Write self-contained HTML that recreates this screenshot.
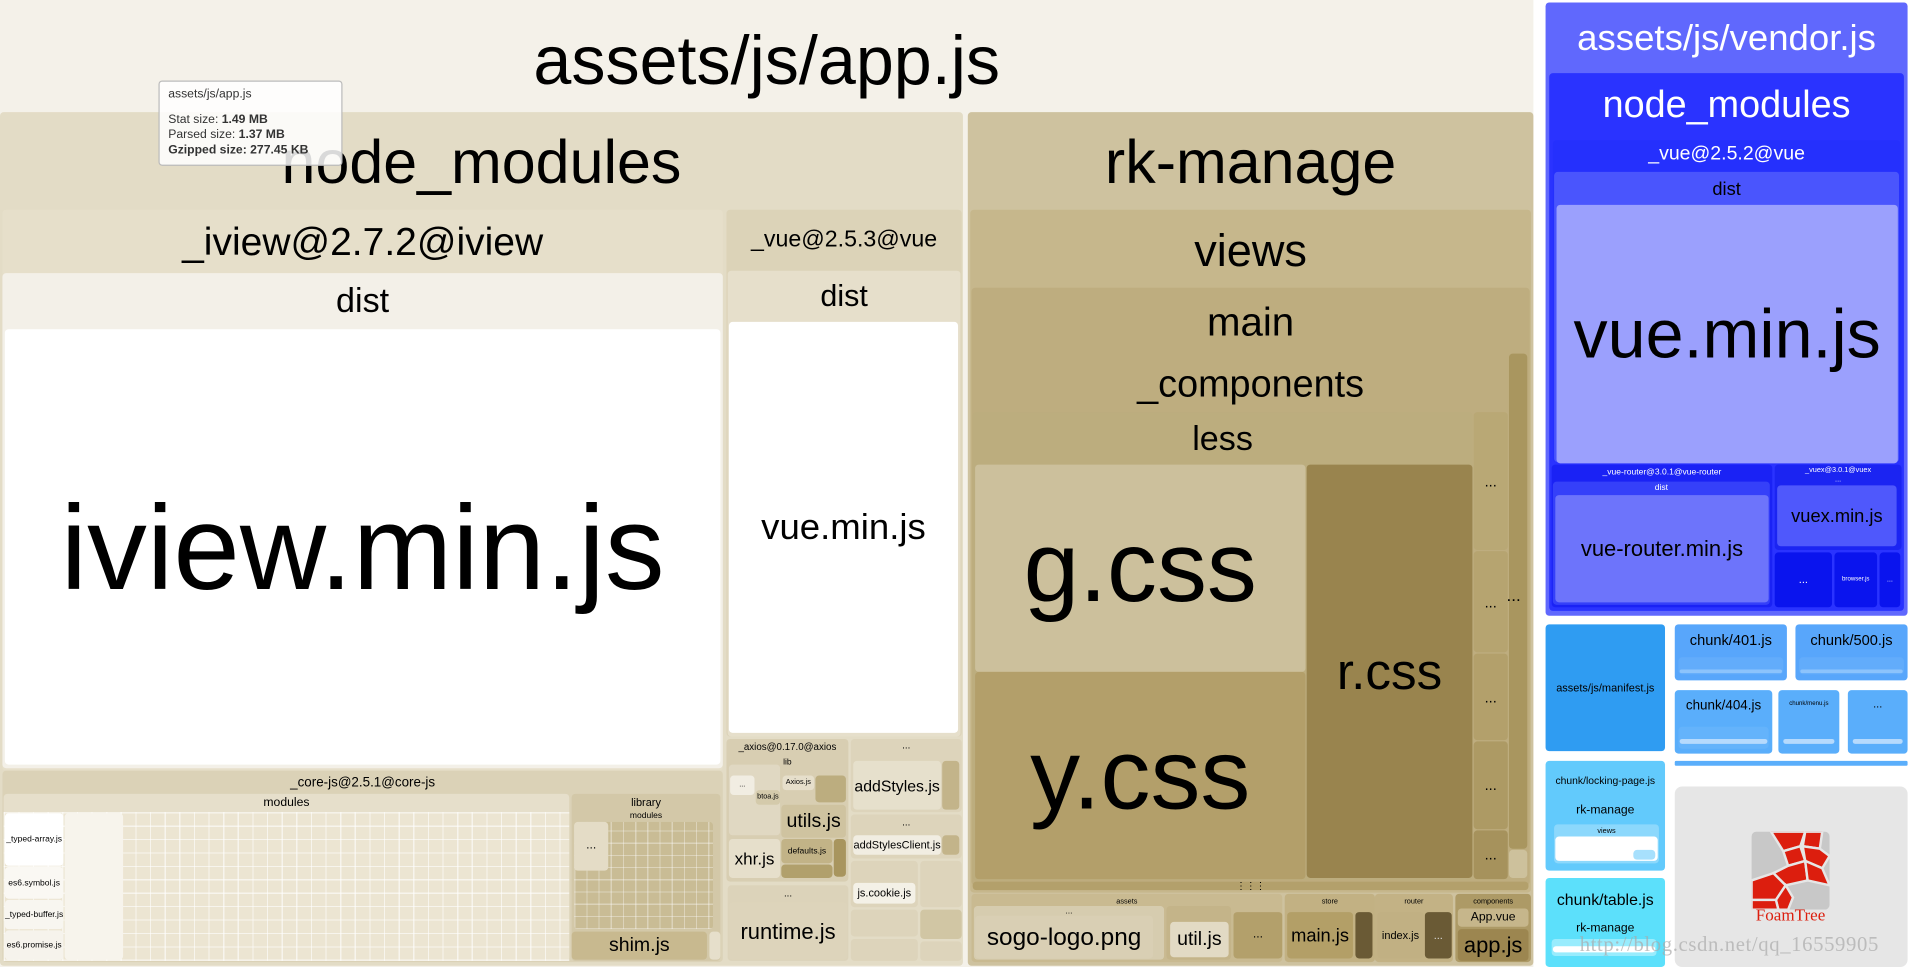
<!DOCTYPE html>
<html><head><meta charset="utf-8"><style>
html,body{margin:0;padding:0;width:1910px;height:967px;overflow:hidden;background:#fff}
#s{position:absolute;left:0;top:0;width:1567px;height:793px;transform:scale(1.2189,1.2194);transform-origin:0 0;font-family:"Liberation Sans",sans-serif;color:#000}
.b{position:absolute;box-sizing:border-box;border-radius:3px;overflow:hidden}
.t{position:absolute;left:0;right:0;text-align:center;white-space:nowrap;line-height:1}
.c{display:flex;align-items:center;justify-content:center;white-space:nowrap;line-height:1}
.grid{background-color:#ece5d2;background-image:repeating-linear-gradient(90deg,rgba(255,255,255,.6) 0 1px,transparent 1px 12px),repeating-linear-gradient(0deg,rgba(255,255,255,.6) 0 1px,transparent 1px 11px)}
</style></head><body><div id="s">
<!-- app.js -->
<div class="b" style="left:0;top:0;width:1258px;height:793px;background:#f4f1e9;border-radius:0"></div>
<div class="t" style="left:0;width:1258px;top:22px;font-size:56px">assets/js/app.js</div>
<div class="b" style="left:0;top:92px;width:790px;height:700px;background:#e3dcc6"><div class="t" style="top:16px;font-size:50px">node_modules</div></div>
<div class="b" style="left:2px;top:172px;width:591px;height:460px;background:#e6dfca"><div class="t" style="top:10px;font-size:32px">_iview@2.7.2@iview</div></div>
<div class="b" style="left:2px;top:224px;width:591px;height:406px;background:#f3f0e8"><div class="t" style="top:9px;font-size:28px">dist</div></div>
<div class="b c" style="left:4px;top:270px;width:587px;height:357px;background:#fff;font-size:98px">iview.min.js</div>
<div class="b" style="left:596px;top:172px;width:193px;height:432px;background:#dcd3b8"><div class="t" style="top:15px;font-size:19px">_vue@2.5.3@vue</div></div>
<div class="b" style="left:597px;top:222px;width:191px;height:382px;background:#e6dfcb"><div class="t" style="top:9px;font-size:25px">dist</div></div>
<div class="b c" style="left:598px;top:264px;width:188px;height:337px;background:#fff;font-size:30px">vue.min.js</div>
<!-- core-js -->
<div class="b" style="left:2px;top:632px;width:591px;height:157px;background:#dbd2b7"><div class="t" style="top:5px;font-size:11px">_core-js@2.5.1@core-js</div></div>
<div class="b" style="left:3px;top:651px;width:464px;height:137px;background:#e6dfcb"><div class="t" style="top:3px;font-size:10px">modules</div></div>
<div class="b grid" style="left:3px;top:666px;width:464px;height:122px;border-radius:0"></div>
<div class="b c" style="left:4px;top:667px;width:48px;height:43px;background:#fff;font-size:7px">_typed-array.js</div>
<div class="b c" style="left:4px;top:711px;width:48px;height:26px;background:#faf8f3;font-size:7px">es6.symbol.js</div>
<div class="b c" style="left:4px;top:738px;width:48px;height:24px;background:#f8f6f0;font-size:7px">_typed-buffer.js</div>
<div class="b c" style="left:4px;top:763px;width:48px;height:24px;background:#f6f3ec;font-size:7px">es6.promise.js</div>
<div class="b" style="left:53px;top:667px;width:48px;height:120px;background:#f7f4ec"></div>
<div class="b" style="left:469px;top:651px;width:122px;height:137px;background:#d3c8a8"><div class="t" style="top:3px;font-size:9px">library</div><div class="t" style="top:15px;font-size:7px">modules</div></div>
<div class="b" style="left:471px;top:674px;width:114px;height:88px;background-color:#c9bc95;background-image:repeating-linear-gradient(90deg,rgba(255,255,255,.35) 0 1px,transparent 1px 10px),repeating-linear-gradient(0deg,rgba(255,255,255,.35) 0 1px,transparent 1px 10px)"></div>
<div class="b c" style="left:471px;top:674px;width:28px;height:40px;background:#e4dcc6;font-size:10px">...</div>
<div class="b c" style="left:469px;top:764px;width:111px;height:23px;background:#c8b98f;font-size:16px">shim.js</div>
<div class="b" style="left:582px;top:764px;width:9px;height:23px;background:#e6dfcb"></div>
<!-- axios -->
<div class="b" style="left:596px;top:606px;width:100px;height:117px;background:#d8ceb2"><div class="t" style="top:3px;font-size:8px">_axios@0.17.0@axios</div><div class="t" style="top:16px;font-size:7px">lib</div></div>
<div class="b" style="left:598px;top:627px;width:42px;height:58px;background:#e0d8c2"></div>
<div class="b c" style="left:599px;top:636px;width:20px;height:16px;background:#f1ede2;font-size:6px">...</div>
<div class="b c" style="left:620px;top:648px;width:20px;height:12px;background:#d4caab;font-size:6px">btoa.js</div>
<div class="b c" style="left:642px;top:636px;width:26px;height:12px;background:#e6dfcb;font-size:6px">Axios.js</div>
<div class="b" style="left:669px;top:636px;width:25px;height:22px;background:#bcad7f"></div>
<div class="b c" style="left:641px;top:660px;width:53px;height:27px;background:#cfc3a0;font-size:16px">utils.js</div>
<div class="b c" style="left:641px;top:688px;width:42px;height:20px;background:#c2b387;font-size:7px">defaults.js</div>
<div class="b" style="left:684px;top:688px;width:10px;height:31px;background:#a8955e"></div>
<div class="b" style="left:641px;top:709px;width:42px;height:11px;background:#b1a06c"></div>
<div class="b c" style="left:598px;top:688px;width:42px;height:32px;background:#e6dfcb;font-size:14px">xhr.js</div>
<div class="b" style="left:597px;top:726px;width:99px;height:62px;background:#dcd3ba"><div class="t" style="top:3px;font-size:8px">...</div></div>
<div class="b c" style="left:598px;top:740px;width:97px;height:47px;background:#ddd4bb;font-size:18px">runtime.js</div>
<div class="b" style="left:698px;top:606px;width:91px;height:60px;background:#ddd4bb"><div class="t" style="top:2px;font-size:8px">...</div></div>
<div class="b c" style="left:700px;top:624px;width:72px;height:40px;background:#e6e0cc;font-size:13px">addStyles.js</div>
<div class="b" style="left:773px;top:624px;width:14px;height:40px;background:#c3b48a"></div>
<div class="b" style="left:698px;top:668px;width:91px;height:36px;background:#ddd4bb"><div class="t" style="top:3px;font-size:8px">...</div></div>
<div class="b c" style="left:700px;top:685px;width:72px;height:16px;background:#f1ede2;font-size:9px">addStylesClient.js</div>
<div class="b" style="left:773px;top:685px;width:14px;height:16px;background:#c3b48a"></div>
<div class="b" style="left:698px;top:706px;width:55px;height:38px;background:#ddd4bb"></div>
<div class="b c" style="left:700px;top:724px;width:51px;height:17px;background:#f4f1e7;font-size:9px">js.cookie.js</div>
<div class="b" style="left:755px;top:706px;width:34px;height:38px;background:#ddd4bb"></div>
<div class="b" style="left:698px;top:746px;width:55px;height:22px;background:#ddd4bb"></div>
<div class="b" style="left:698px;top:770px;width:55px;height:18px;background:#ddd4bb"></div>
<div class="b" style="left:755px;top:746px;width:34px;height:24px;background:#d1c6a4"></div>
<div class="b" style="left:755px;top:772px;width:34px;height:16px;background:#ddd4bb"></div>
<!-- tooltip -->
<div class="b" style="left:130px;top:66px;width:151px;height:70px;background:rgba(255,255,255,.85);border:1px solid #bbb;font-size:10px;color:#333;padding:5px 7px;line-height:12.5px;white-space:nowrap">
<div>assets/js/app.js</div><div style="height:8px"></div>
<div>Stat size: <b>1.49 MB</b></div><div>Parsed size: <b>1.37 MB</b></div><div><b>Gzipped size: 277.45 KB</b></div></div>
<!-- rk-manage -->
<div class="b" style="left:794px;top:92px;width:464px;height:700px;background:#cec29f"><div class="t" style="top:16px;font-size:50px">rk-manage</div></div>
<div class="b" style="left:796px;top:172px;width:460px;height:560px;background:#c6b78c"><div class="t" style="top:15px;font-size:37px">views</div></div>
<div class="b" style="left:797px;top:236px;width:458px;height:490px;background:#bead7f"><div class="t" style="top:11px;font-size:33px">main</div><div class="t" style="top:63px;font-size:31px">_components</div></div>
<div class="b" style="left:798px;top:338px;width:410px;height:384px;background:#bcad7e"><div class="t" style="top:8px;font-size:28px">less</div></div>
<div class="b c" style="left:800px;top:381px;width:271px;height:170px;background:#ccc09c;font-size:82px">g.css</div>
<div class="b c" style="left:800px;top:551px;width:271px;height:170px;background:#b39f6a;font-size:82px">y.css</div>
<div class="b c" style="left:1072px;top:381px;width:136px;height:339px;background:#99844e;font-size:42px">r.css</div>
<div class="b c" style="left:1209px;top:338px;width:28px;height:113px;background:#b9a875;font-size:12px">...</div>
<div class="b c" style="left:1209px;top:452px;width:28px;height:83px;background:#b6a470;font-size:12px">...</div>
<div class="b c" style="left:1209px;top:536px;width:28px;height:71px;background:#b3a06b;font-size:12px">...</div>
<div class="b c" style="left:1209px;top:608px;width:28px;height:72px;background:#ad9a64;font-size:12px">...</div>
<div class="b c" style="left:1209px;top:681px;width:28px;height:40px;background:#a6925c;font-size:12px">...</div>
<div class="b" style="left:1238px;top:290px;width:15px;height:406px;background:#a9965f"></div>
<div style="position:absolute;left:1236px;top:480px;font-size:14px">...</div>
<div class="b" style="left:1238px;top:697px;width:15px;height:23px;background:#cdc19c"></div>
<div class="b c" style="left:798px;top:723px;width:456px;height:7px;background:#b3a06b;font-size:8px">⋮⋮⋮</div>
<div class="b" style="left:797px;top:733px;width:255px;height:56px;background:#c9ba91"><div class="t" style="top:4px;font-size:6px">assets</div></div>
<div class="b" style="left:799px;top:743px;width:156px;height:44px;background:#d6ccaf"><div class="t" style="top:1px;font-size:7px">...</div></div>
<div class="b c" style="left:800px;top:751px;width:146px;height:35px;background:#d9cfb4;font-size:20px">sogo-logo.png</div>
<div class="b" style="left:957px;top:743px;width:53px;height:44px;background:#c4b489"></div>
<div class="b c" style="left:960px;top:756px;width:48px;height:29px;background:#e2dac4;font-size:16px">util.js</div>
<div class="b c" style="left:1012px;top:748px;width:40px;height:38px;background:#b3a06b;font-size:10px">...</div>
<div class="b" style="left:1054px;top:733px;width:74px;height:56px;background:#c2b183"><div class="t" style="top:4px;font-size:6px">store</div></div>
<div class="b c" style="left:1056px;top:748px;width:54px;height:38px;background:#b39f67;font-size:15px">main.js</div>
<div class="b" style="left:1112px;top:748px;width:14px;height:38px;background:#6a5a35"></div>
<div class="b" style="left:1128px;top:733px;width:64px;height:56px;background:#c3b285"><div class="t" style="top:4px;font-size:6px">router</div></div>
<div class="b c" style="left:1130px;top:748px;width:38px;height:38px;background:#c1b083;font-size:9px">index.js</div>
<div class="b c" style="left:1169px;top:748px;width:22px;height:38px;background:#6a5a35;font-size:9px;color:#ddd">...</div>
<div class="b" style="left:1194px;top:733px;width:62px;height:56px;background:#ad9a66"><div class="t" style="top:4px;font-size:6px">components</div></div>
<div class="b c" style="left:1196px;top:745px;width:58px;height:15px;background:#c6b68b;font-size:10px">App.vue</div>
<div class="b c" style="left:1196px;top:762px;width:58px;height:26px;background:#9c8650;font-size:18px">app.js</div>
<!-- vendor -->
<div class="b" style="left:1268px;top:2px;width:297px;height:503px;background:#6068fd"><div class="t" style="top:15px;font-size:30px;color:#fff">assets/js/vendor.js</div></div>
<div class="b" style="left:1271px;top:60px;width:291px;height:441px;background:#2a33ff"><div class="t" style="top:10px;font-size:31px;color:#fff">node_modules</div></div>
<div class="b" style="left:1274px;top:115px;width:285px;height:264px;background:#2530fd"><div class="t" style="top:4px;font-size:16px;color:#fff">_vue@2.5.2@vue</div></div>
<div class="b" style="left:1275px;top:141px;width:283px;height:238px;background:#4a55fd"><div class="t" style="top:7px;font-size:15px">dist</div></div>
<div class="b c" style="left:1277px;top:168px;width:280px;height:212px;background:#9ba0fd;font-size:56px">vue.min.js</div>
<div class="b" style="left:1273px;top:381px;width:181px;height:117px;background:#1a22f5"><div class="t" style="top:3px;font-size:7px;color:#fff">_vue-router@3.0.1@vue-router</div></div>
<div class="b" style="left:1274px;top:395px;width:178px;height:101px;background:#3540f9"><div class="t" style="top:2px;font-size:7px;color:#fff">dist</div></div>
<div class="b c" style="left:1276px;top:406px;width:175px;height:88px;background:#6d74fb;font-size:18px">vue-router.min.js</div>
<div class="b" style="left:1456px;top:381px;width:104px;height:70px;background:#1b24f2"><div class="t" style="top:2px;font-size:6px;color:#fff">_vuex@3.0.1@vuex</div><div class="t" style="top:10px;font-size:6px;color:#fff">...</div></div>
<div class="b c" style="left:1458px;top:398px;width:98px;height:50px;background:#4f58fc;font-size:15px">vuex.min.js</div>
<div class="b c" style="left:1456px;top:453px;width:47px;height:45px;background:#0a14ee;font-size:9px;color:#fff">...</div>
<div class="b c" style="left:1505px;top:453px;width:35px;height:45px;background:#0a14ee;font-size:5px;color:#fff">browser.js</div>
<div class="b c" style="left:1542px;top:453px;width:17px;height:45px;background:#0a14ee;font-size:6px;color:#fff">...</div>
<!-- chunks -->
<div class="b c" style="left:1268px;top:512px;width:98px;height:104px;background:#2f9cf2;font-size:9px">assets/js/manifest.js</div>
<div class="b" style="left:1374px;top:512px;width:92px;height:46px;background:#58a6fb"><div class="t" style="top:7px;font-size:12px">chunk/401.js</div><div class="b" style="left:3px;top:27px;width:86px;height:14px;background:#62acfb"></div><div class="b" style="left:4px;top:37px;width:84px;height:3px;background:#8cc3fc"></div></div>
<div class="b" style="left:1473px;top:512px;width:92px;height:46px;background:#58a6fb"><div class="t" style="top:7px;font-size:12px">chunk/500.js</div><div class="b" style="left:3px;top:27px;width:86px;height:14px;background:#62acfb"></div><div class="b" style="left:4px;top:37px;width:84px;height:3px;background:#8cc3fc"></div></div>
<div class="b" style="left:1374px;top:566px;width:80px;height:52px;background:#5aaefb"><div class="t" style="top:8px;font-size:11px">chunk/404.js</div><div class="b" style="left:3px;top:30px;width:74px;height:18px;background:#64b3fb"></div><div class="b" style="left:4px;top:40px;width:72px;height:4px;background:#b6dafd"></div></div>
<div class="b" style="left:1459px;top:566px;width:50px;height:52px;background:#5aaefb"><div class="t" style="top:9px;font-size:5px">chunk/menu.js</div><div class="b" style="left:4px;top:40px;width:42px;height:4px;background:#b6dafd"></div></div>
<div class="b" style="left:1516px;top:566px;width:49px;height:52px;background:#5aaefb"><div class="t" style="top:7px;font-size:9px">...</div><div class="b" style="left:4px;top:40px;width:41px;height:4px;background:#b6dafd"></div></div>
<div class="b" style="left:1374px;top:624px;width:191px;height:4px;background:#5aaefb;border-radius:1px"></div>
<div class="b" style="left:1268px;top:624px;width:98px;height:90px;background:#62cafc"><div class="t" style="top:12px;font-size:8.5px">chunk/locking-page.js</div><div class="t" style="top:36px;font-size:10px">rk-manage</div></div>
<div class="b" style="left:1275px;top:676px;width:86px;height:32px;background:#8cd8fc"><div class="t" style="top:3px;font-size:6px">views</div></div>
<div class="b" style="left:1276px;top:686px;width:84px;height:20px;background:#fff"></div>
<div class="b" style="left:1340px;top:697px;width:18px;height:8px;background:#a7e0fd"></div>
<div class="b" style="left:1268px;top:720px;width:98px;height:73px;background:#5ce0fb"><div class="t" style="top:11px;font-size:13px">chunk/table.js</div><div class="t" style="top:37px;font-size:10px">rk-manage</div><div class="b" style="left:5px;top:50px;width:86px;height:14px;background:#98ecfd"></div><div class="b" style="left:6px;top:56px;width:84px;height:5px;background:#fff"></div></div>
<div class="b" style="left:1374px;top:645px;width:191px;height:148px;background:#e6e6e6;border-radius:6px"></div>
<svg style="position:absolute;left:1437px;top:682px" width="64" height="64" viewBox="0 0 64 64">
<rect x="0" y="0" width="64" height="64" fill="#c8c8c8" rx="4"/>
<g fill="#dc1e0e" stroke="#e6e6e6" stroke-width="2">
<polygon points="16,0 44,0 40,12 26,16"/><polygon points="44,0 58,0 56,14 42,12"/>
<polygon points="26,16 40,12 44,24 30,28"/><polygon points="42,12 56,14 64,20 58,30 44,24"/>
<polygon points="0,40 18,34 28,44 20,56 0,56"/><polygon points="18,34 30,28 44,24 46,40 28,44"/>
<polygon points="46,40 44,24 58,30 64,44"/><polygon points="20,56 28,44 34,54 30,64 22,64"/>
<polygon points="0,56 20,56 22,64 0,64"/></g></svg>
<div style="position:absolute;left:1437px;top:744px;width:64px;text-align:center;font-family:'Liberation Serif',serif;font-size:14px;color:#dc1e0e">FoamTree</div>
<div style="position:absolute;left:1296px;top:765px;font-family:'Liberation Serif',serif;font-size:17px;color:rgba(170,170,170,.7);letter-spacing:0.5px;white-space:nowrap">http://blog.csdn.net/qq_16559905</div>
</div></body></html>
